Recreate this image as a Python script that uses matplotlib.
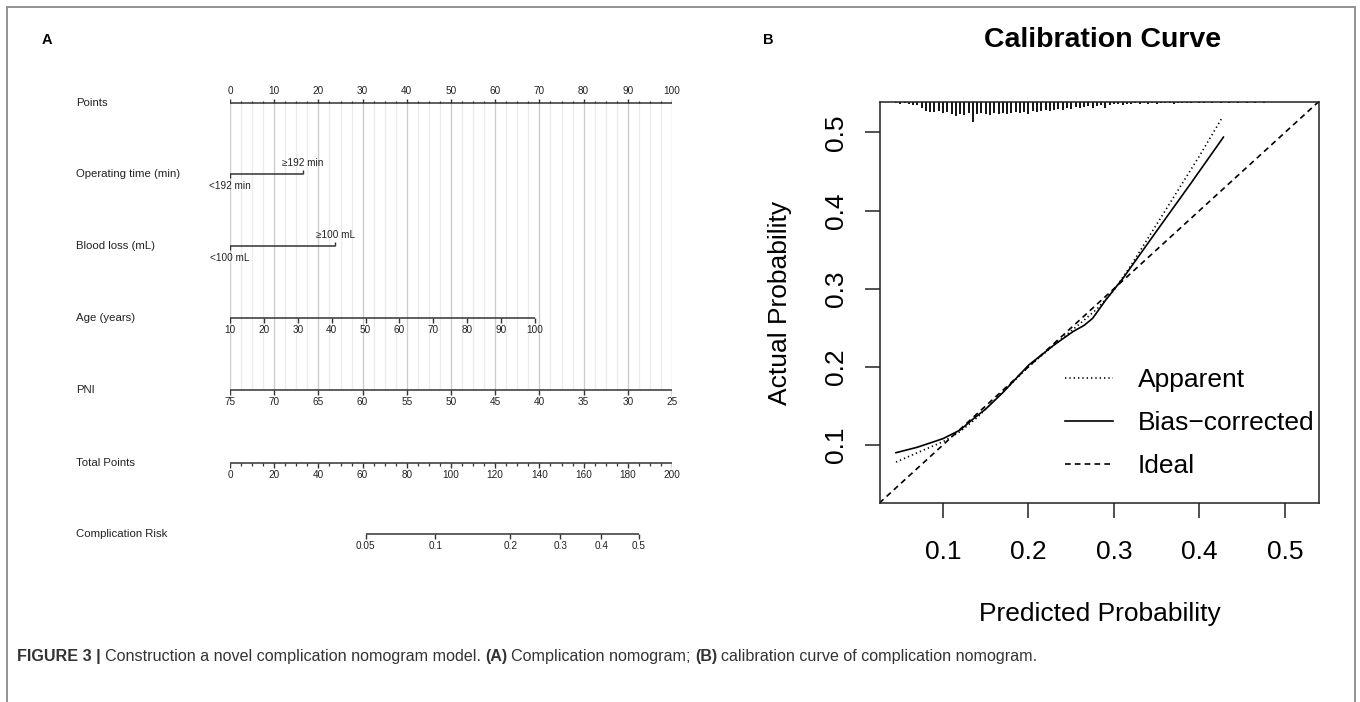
import numpy as np
import matplotlib
matplotlib.use("Agg")
import matplotlib.pyplot as plt
from matplotlib.lines import Line2D

plt.rcParams['font.family'] = ['Liberation Sans', 'DejaVu Sans']

# ---------------- data: nomogram ----------------
variable_names = ['Points', 'Operating time (min)', 'Blood loss (mL)', 'Age (years)',
                  'PNI', 'Total Points', 'Complication Risk']
points_ticks = [0, 10, 20, 30, 40, 50, 60, 70, 80, 90, 100]
op_time_labels = ['<192 min', '\u2265192 min']
op_time_points = [0.0, 16.5]
blood_loss_labels = ['<100 mL', '\u2265100 mL']
blood_loss_points = [0.0, 23.8]
age_ticks = [10, 20, 30, 40, 50, 60, 70, 80, 90, 100]
age_points_at_max = 69.0          # points given to age 100 (age 10 -> 0)
pni_ticks = [75, 70, 65, 60, 55, 50, 45, 40, 35, 30, 25]
pni_points_per_unit = 2.0         # points per unit decrease of PNI below 75
total_points_ticks = [0, 20, 40, 60, 80, 100, 120, 140, 160, 180, 200]
risk_ticks = [0.05, 0.1, 0.2, 0.3, 0.4, 0.5]
risk_tick_labels = ['0.05', '0.1', '0.2', '0.3', '0.4', '0.5']
risk_total_at_half = 185.0        # total points giving 50% risk
risk_logit_slope = 0.02384        # logit change per total point

# ---------------- data: calibration ----------------
cal_ticks = [0.1, 0.2, 0.3, 0.4, 0.5]
cal_tick_labels = ['0.1', '0.2', '0.3', '0.4', '0.5']
series_names = ['Apparent', 'Bias\u2212corrected', 'Ideal']
apparent_x = [0.045, 0.07, 0.10, 0.12, 0.14, 0.17, 0.20, 0.23, 0.26, 0.28, 0.30, 0.32, 0.36, 0.40, 0.426]
apparent_y = [0.078, 0.090, 0.104, 0.117, 0.135, 0.168, 0.200, 0.228, 0.255, 0.274, 0.298, 0.330, 0.400, 0.470, 0.518]
bias_x = [0.045, 0.07, 0.10, 0.12, 0.135, 0.15, 0.17, 0.20, 0.23, 0.252, 0.265, 0.275, 0.29, 0.311, 0.35, 0.39, 0.428]
bias_y = [0.090, 0.097, 0.108, 0.119, 0.133, 0.146, 0.167, 0.202, 0.228, 0.245, 0.253, 0.262, 0.285, 0.314, 0.374, 0.435, 0.494]
ideal_line = [0.0, 0.6]
rug_x = [0.045, 0.050, 0.055, 0.060, 0.065, 0.070, 0.075, 0.080, 0.085, 0.090,
         0.095, 0.100, 0.105, 0.110, 0.115, 0.120, 0.125, 0.130, 0.135, 0.140,
         0.145, 0.150, 0.155, 0.160, 0.165, 0.170, 0.175, 0.180, 0.185, 0.190,
         0.195, 0.200, 0.205, 0.210, 0.215, 0.220, 0.225, 0.230, 0.235, 0.240,
         0.245, 0.250, 0.255, 0.260, 0.265, 0.270, 0.275, 0.280, 0.285, 0.290,
         0.295, 0.300, 0.305, 0.310, 0.315, 0.320, 0.325, 0.330, 0.335, 0.340,
         0.345, 0.350, 0.355, 0.360, 0.365, 0.370, 0.375, 0.380, 0.385, 0.390,
         0.395, 0.400, 0.405, 0.410, 0.415, 0.420, 0.425, 0.430, 0.435, 0.440,
         0.445, 0.450, 0.455, 0.460, 0.465, 0.470, 0.475]
rug_count = [1, 2, 1, 2, 3, 3, 6, 9, 10, 10,
             9, 11, 10, 12, 14, 12, 13, 11, 20, 12,
             11, 12, 13, 11, 12, 11, 12, 11, 10, 11,
             10, 12, 9, 10, 9, 8, 9, 8, 7, 8,
             6, 7, 5, 6, 5, 4, 6, 4, 3, 6,
             3, 2, 2, 3, 2, 2, 1, 2, 1, 2,
             1, 2, 1, 1, 1, 2, 1, 1, 1, 1,
             0, 1, 1, 0, 1, 0, 1, 0, 1, 0,
             1, 0, 1, 0, 1, 0, 1]

caption_parts = [('FIGURE 3 |', 'bold'),
                 ('Construction a novel complication nomogram model.', 'normal'),
                 ('(A)', 'bold'), ('Complication nomogram;', 'normal'),
                 ('(B)', 'bold'), ('calibration curve of complication nomogram.', 'normal')]

# ---------------- figure ----------------
W, H = 1360, 702
fig = plt.figure(figsize=(W / 100, H / 100), dpi=100)


def fx(px):
    return px / W


def fy(py):
    return 1 - py / H


# figure frame
fig.add_artist(plt.Rectangle((fx(7), fy(720)), fx(1355) - fx(7), fy(7) - fy(720),
                             transform=fig.transFigure, fill=False,
                             edgecolor='#8a8a8a', lw=1.3))

fig.text(fx(42), fy(40), 'A', fontsize=10.5, fontweight='bold', va='center', ha='left')
fig.text(fx(763), fy(40), 'B', fontsize=10.5, fontweight='bold', va='center', ha='left')

# ---------------- nomogram ----------------
axn = fig.add_axes([fx(230), 0, fx(672) - fx(230), 1])
axn.set_xlim(0, 100)
axn.set_ylim(H, 0)
axn.axis('off')

LC = '#333333'
ROW_Y = [103, 174, 246, 318, 390, 463, 534]
LABEL_X = -34.8
VAL_FS = 7.2
NAME_FS = 8.2

for name, y in zip(variable_names, ROW_Y):
    axn.text(LABEL_X, y, name, fontsize=NAME_FS, ha='left', va='center', color='#222', clip_on=False)

# grid lines
for g in np.arange(0, 100.01, 2.5):
    major = abs(g % 10) < 1e-9
    axn.vlines(g, ROW_Y[0], ROW_Y[4], color='#cdcdcd' if major else '#ececec',
               lw=1.0, zorder=0)


def draw_scale(y, xs, labels, up, major_len=4.5, minor_xs=(), minor_len=2.5, lab_off=12):
    axn.plot([min(xs), max(xs)], [y, y], color=LC, lw=1.1, solid_capstyle='butt', zorder=3)
    s = -1 if up else 1
    axn.vlines(xs, y, y + s * major_len, color=LC, lw=1.0, zorder=3)
    if len(minor_xs):
        axn.vlines(minor_xs, y, y + s * minor_len, color=LC, lw=0.9, zorder=3)
    for x, lab in zip(xs, labels):
        axn.text(x, y + s * lab_off, lab, fontsize=VAL_FS, ha='center', va='center',
                 color='#222', clip_on=False)


# Points
draw_scale(ROW_Y[0], points_ticks, [str(v) for v in points_ticks], up=True,
           minor_xs=[v for v in np.arange(0, 100.01, 2.5) if v % 10 != 0])


def draw_binary(y, pts, labels):
    axn.plot([pts[0], pts[1]], [y, y], color=LC, lw=1.1, solid_capstyle='butt', zorder=3)
    axn.vlines(pts[0], y, y + 4, color=LC, lw=1.0)
    axn.vlines(pts[1], y, y - 4, color=LC, lw=1.0)
    axn.text(pts[0], y + 12, labels[0], fontsize=VAL_FS, ha='center', va='center', color='#222')
    axn.text(pts[1], y - 11, labels[1], fontsize=VAL_FS, ha='center', va='center', color='#222')


draw_binary(ROW_Y[1], op_time_points, op_time_labels)
draw_binary(ROW_Y[2], blood_loss_points, blood_loss_labels)

# Age
age_x = [(a - age_ticks[0]) / (age_ticks[-1] - age_ticks[0]) * age_points_at_max for a in age_ticks]
draw_scale(ROW_Y[3], age_x, [str(a) for a in age_ticks], up=False)

# PNI
pni_x = [(pni_ticks[0] - p) * pni_points_per_unit for p in pni_ticks]
draw_scale(ROW_Y[4], pni_x, [str(p) for p in pni_ticks], up=False)

# Total points (scale 0..200 -> 0..100 on points axis)
tp_scale = 100.0 / total_points_ticks[-1]
tp_x = [t * tp_scale for t in total_points_ticks]
tp_minor = [t * tp_scale for t in np.arange(0, 200.01, 5) if t % 20 != 0]
draw_scale(ROW_Y[5], tp_x, [str(t) for t in total_points_ticks], up=False, minor_xs=tp_minor)

# Complication risk
risk_tp = [risk_total_at_half + np.log(r / (1 - r)) / risk_logit_slope for r in risk_ticks]
risk_x = [t * tp_scale for t in risk_tp]
draw_scale(ROW_Y[6], risk_x, risk_tick_labels, up=False)

# ---------------- calibration ----------------
axc = fig.add_axes([fx(880), fy(503), fx(1319) - fx(880), fy(102) - fy(503)])
axc.set_xlim(0.0263, 0.5398)
axc.set_ylim(0.0256, 0.539)

axc.plot(ideal_line, ideal_line, color='k', lw=1.2, ls=(0, (3.4, 2.5)))
axc.plot(apparent_x, apparent_y, color='k', lw=1.2, ls=(0, (0.8, 1.8)))
axc.plot(bias_x, bias_y, color='k', lw=1.2, ls='-')

RUG_UNIT = 1.0 / 780
top = axc.get_ylim()[1]
axc.vlines(rug_x, top - np.array(rug_count) * RUG_UNIT, top, color='k', lw=1.3)

axc.set_xticks(cal_ticks)
axc.set_xticklabels(cal_tick_labels)
axc.set_yticks(cal_ticks)
axc.set_yticklabels(cal_tick_labels, rotation=90, va='center')
axc.tick_params(axis='x', length=10.8, width=1.1, labelsize=19, pad=15.5, color='#222')
axc.tick_params(axis='y', length=10.8, width=1.1, labelsize=19, pad=12, color='#222')
for sp in axc.spines.values():
    sp.set_linewidth(1.1)
    sp.set_color('#222')
axc.set_xlabel('Predicted Probability', fontsize=19, labelpad=28)
axc.set_ylabel('Actual Probability', fontsize=19, labelpad=23)
fig.text(fx(1103), fy(40), 'Calibration Curve', fontsize=20.5, fontweight='bold',
         ha='center', va='center')

# legend (drawn manually, R style)
styles = [(0, (0.8, 1.8)), '-', (0, (3.4, 2.5))]
for name, ls, yb in zip(series_names, styles, [387, 430, 473]):
    fig.add_artist(Line2D([fx(1065), fx(1113)], [fy(yb - 9), fy(yb - 9)], color='k', lw=1.2,
                          ls=ls, transform=fig.transFigure))
    fig.text(fx(1138), fy(yb), name, fontsize=19, ha='left', va='baseline')

# caption
CAP_FS = 11.6
renderer = fig.canvas.get_renderer()
x = fx(17)
space = 0.26 * CAP_FS * 100 / 72 / W
for txt, wt in caption_parts:
    t = fig.text(x, fy(656), txt, fontsize=CAP_FS, fontweight=wt, ha='left', va='center', color='#333')
    bb = t.get_window_extent(renderer)
    x += bb.width / W + space

fig.savefig('out.png', dpi=100)
